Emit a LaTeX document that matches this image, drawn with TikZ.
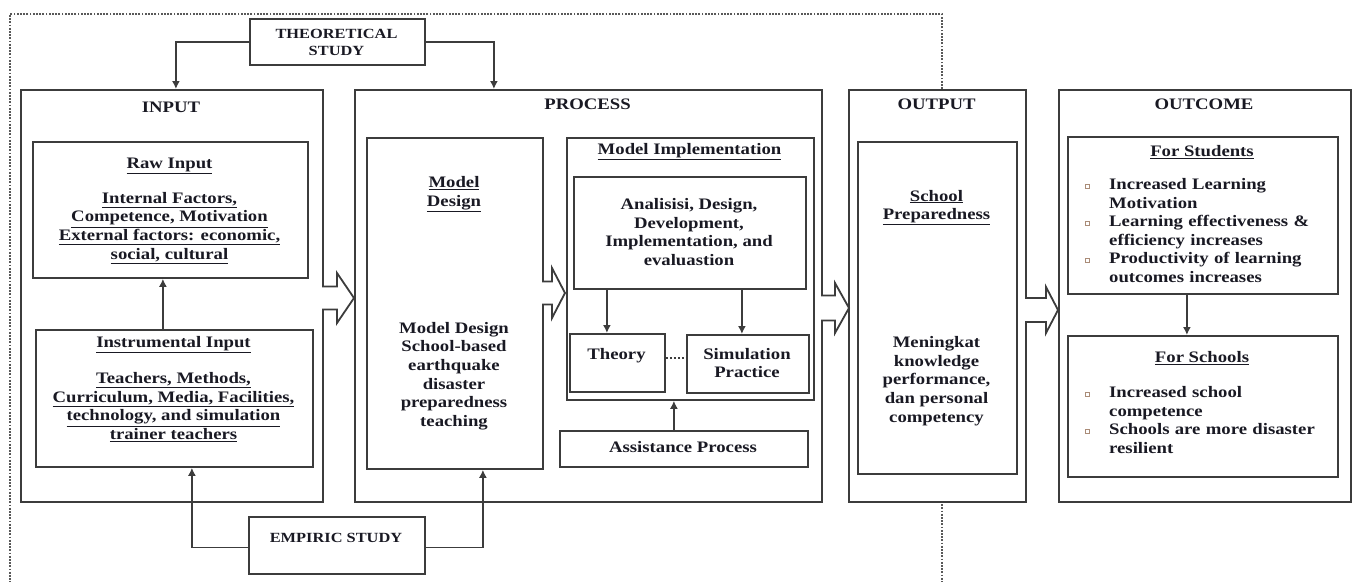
\documentclass[tikz,border=0pt]{standalone}
\usepackage{fontspec}
\setmainfont{Liberation Serif}[FakeStretch=1.17]
\usetikzlibrary{arrows.meta}
\definecolor{linec}{RGB}{60,60,60}
\definecolor{textc}{RGB}{25,25,35}
\definecolor{bulc}{RGB}{170,140,120}
\tikzset{
  box/.style={draw=linec, line width=1.8pt, anchor=north west, inner sep=0pt},
  txt/.style={text=textc, align=center, inner sep=0pt, font=\fontsize{16}{18.7}\selectfont\bfseries},
  smalltxt/.style={text=textc, align=center, inner sep=0pt, font=\fontsize{14}{17}\selectfont\bfseries},
  itemtxt/.style={text=textc, align=left, inner sep=0pt, anchor=north west, text width=225pt, font=\fontsize{16}{18.7}\selectfont\bfseries},
  arr/.style={draw=linec, line width=1.8pt, -{Latex[length=8pt,width=8pt]}},
  hollow/.style={draw=linec, line width=1.8pt, fill=white, line join=miter},
  frame/.style={draw=gray!70!black, line width=1.6pt, dash pattern=on 1.8pt off 1.4pt},
  bul/.style={draw=bulc, line width=1pt, minimum size=4pt, inner sep=0pt}
}
\begin{document}
\begin{tikzpicture}[x=1pt,y=-1pt]
\useasboundingbox (0,0) rectangle (1368,582);
% dotted frame
\draw[frame] (942,89) -- (942,14) -- (10,14) -- (10,582);
\draw[frame] (942,501) -- (942,582);
% boxes
\node[box, minimum width=175pt, minimum height=46pt] (theo) at (249,18) {};
\node[box, minimum width=302pt, minimum height=412pt] (input) at (20,89) {};
\node[box, minimum width=275pt, minimum height=136pt] (raw) at (32,141) {};
\node[box, minimum width=277pt, minimum height=137pt] (instr) at (35,329) {};
\node[box, minimum width=176pt, minimum height=57pt] (emp) at (248,516) {};
\node[box, minimum width=467pt, minimum height=412pt] (process) at (354,89) {};
\node[box, minimum width=176pt, minimum height=331pt] (mdesign) at (366,137) {};
\node[box, minimum width=247pt, minimum height=262pt] (mimpl) at (566,137) {};
\node[box, minimum width=232pt, minimum height=112pt] (anal) at (573,176) {};
\node[box, minimum width=95pt, minimum height=58pt] (theory) at (569,333) {};
\node[box, minimum width=122pt, minimum height=58pt] (sim) at (686,334) {};
\node[box, minimum width=248pt, minimum height=36pt] (assist) at (559,430) {};
\node[box, minimum width=177pt, minimum height=412pt] (output) at (848,89) {};
\node[box, minimum width=159pt, minimum height=332pt] (schprep) at (857,141) {};
\node[box, minimum width=292pt, minimum height=412pt] (outcome) at (1058,89) {};
\node[box, minimum width=270pt, minimum height=157pt] (students) at (1067,136) {};
\node[box, minimum width=270pt, minimum height=141pt] (schools) at (1067,335) {};
% hollow block arrows
\draw[hollow] (322,286.5) -- (337,286.5) -- (337,273) -- (354,298) -- (337,323) -- (337,309.5) -- (322,309.5);
\draw[hollow] (542,281.5) -- (552,281.5) -- (552,268) -- (565,293) -- (552,318) -- (552,304.5) -- (542,304.5);
\draw[hollow] (821,295.5) -- (835,295.5) -- (835,283) -- (849,308) -- (835,333) -- (835,320.5) -- (821,320.5);
\draw[hollow] (1025,298) -- (1046,298) -- (1046,287) -- (1058,310) -- (1046,333) -- (1046,322) -- (1025,322);
% connectors
\draw[arr] (theo.west) -| ([xshift=4pt]input.north);
\draw[arr] (theo.east) -| ([xshift=-94.5pt]process.north);
\draw[arr] ([xshift=-11.5pt]instr.north) -- ([xshift=-11.5pt]instr.north |- raw.south);
\draw[arr] ([yshift=-2pt]emp.west) -| ([xshift=17.5pt]instr.south);
\draw[arr] ([yshift=-2pt]emp.east) -| ([xshift=28pt]mdesign.south);
\draw[arr] ([xshift=-83pt]anal.south) -- ([xshift=-83pt]anal.south |- theory.north);
\draw[arr] ([xshift=52pt]anal.south) -- ([xshift=52pt]anal.south |- sim.north);
\draw[draw=linec, line width=1.2pt, dash pattern=on 2pt off 2pt] ([yshift=5pt]theory.east) -- ([yshift=5pt]theory.east -| sim.west);
\draw[arr] ([xshift=-10pt]assist.north) -- ([xshift=-10pt]assist.north |- mimpl.south);
\draw[arr] ([xshift=-16pt]students.south) -- ([xshift=-16pt]students.south |- schools.north);
% texts
\node[smalltxt] (theot) at (336.5,42) {THEORETICAL\\STUDY};
\node[smalltxt] (empt) at (336,538) {EMPIRIC STUDY};
\node[txt] (inputt) at (171,107) {INPUT};
\node[txt] (rawt) at (169.5,166) {\underline{Raw Input}};
\node[txt] (rawb) at (169.5,228) {\underline{Internal Factors,}\\\underline{Competence, Motivation}\\\underline{External factors: economic,}\\\underline{social, cultural}};
\node[txt] (instrt) at (173.5,345) {\underline{Instrumental Input}};
\node[txt] (instrb) at (173.5,407) {\underline{Teachers, Methods,}\\\underline{Curriculum, Media, Facilities,}\\\underline{technology, and simulation}\\\underline{trainer teachers}};
\node[txt] (processt) at (587.5,104) {PROCESS};
\node[txt] (mdt) at (454,194) {\underline{Model}\\\underline{Design}};
\node[txt] (mdb) at (454,376) {Model Design\\School-based\\earthquake\\disaster\\preparedness\\teaching};
\node[txt] (mit) at (689.5,152) {\underline{Model Implementation}};
\node[txt] (analt) at (689,232) {Analisisi, Design,\\Development,\\Implementation, and\\evaluastion};
\node[txt] (theoryt) at (616.5,356) {Theory};
\node[txt] (simt) at (747,363) {Simulation\\Practice};
\node[txt] (assistt) at (683,447) {Assistance Process};
\node[txt] (outputt) at (936.5,104) {OUTPUT};
\node[txt] (spt) at (936.5,207.5) {\underline{School}\\\underline{Preparedness}};
\node[txt] (spb) at (936.5,381) {Meningkat\\knowledge\\performance,\\dan personal\\competency};
\node[txt] (outcomet) at (1204,104) {OUTCOME};
\node[txt] (stut) at (1202,152) {\underline{For Students}};
\node[txt] (scht) at (1202,358) {\underline{For Schools}};
% bullet items
\node[bul] (b1) at (1087,186) {};
\node[itemtxt] (i1) at (1109,178) {Increased Learning\\Motivation};
\node[bul] (b2) at (1087,223) {};
\node[itemtxt] (i2) at (1109,215) {Learning effectiveness \&\\efficiency increases};
\node[bul] (b3) at (1087,260) {};
\node[itemtxt] (i3) at (1109,252) {Productivity of learning\\outcomes increases};
\node[bul] (b4) at (1087,394) {};
\node[itemtxt] (i4) at (1109,386) {Increased school\\competence};
\node[bul] (b5) at (1087,431) {};
\node[itemtxt] (i5) at (1109,423) {Schools are more disaster\\resilient};
\end{tikzpicture}
\end{document}
